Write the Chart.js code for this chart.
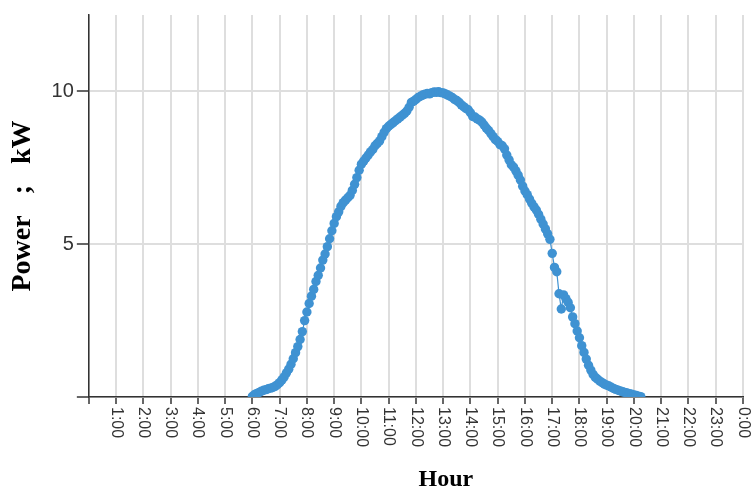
<!DOCTYPE html>
<html>
<head>
<meta charset="utf-8">
<script src="https://cdn.jsdelivr.net/npm/chart.js@4"></script>
<style>
  html, body { margin: 0; padding: 0; background: #fff; }
  #wrap { width: 752px; height: 489px; position: relative; }
</style>
</head>
<body>
<div id="wrap"><canvas id="pv"></canvas></div>
<script>
// PV output of one day, sampled every 5 minutes
const times = [
  '6:00','6:05','6:10','6:15','6:20','6:25','6:30','6:35','6:40','6:45','6:50','6:55',
  '7:00','7:05','7:10','7:15','7:20','7:25','7:30','7:35','7:40','7:45','7:50','7:55',
  '8:00','8:05','8:10','8:15','8:20','8:25','8:30','8:35','8:40','8:45','8:50','8:55',
  '9:00','9:05','9:10','9:15','9:20','9:25','9:30','9:35','9:40','9:45','9:50','9:55',
  '10:00','10:05','10:10','10:15','10:20','10:25','10:30','10:35','10:40','10:45','10:50','10:55',
  '11:00','11:05','11:10','11:15','11:20','11:25','11:30','11:35','11:40','11:45','11:50','11:55',
  '12:00','12:05','12:10','12:15','12:20','12:25','12:30','12:35','12:40','12:45','12:50','12:55',
  '13:00','13:05','13:10','13:15','13:20','13:25','13:30','13:35','13:40','13:45','13:50','13:55',
  '14:00','14:05','14:10','14:15','14:20','14:25','14:30','14:35','14:40','14:45','14:50','14:55',
  '15:00','15:05','15:10','15:15','15:20','15:25','15:30','15:35','15:40','15:45','15:50','15:55',
  '16:00','16:05','16:10','16:15','16:20','16:25','16:30','16:35','16:40','16:45','16:50','16:55',
  '17:00','17:05','17:10','17:15','17:20','17:25','17:30','17:35','17:40','17:45','17:50','17:55',
  '18:00','18:05','18:10','18:15','18:20','18:25','18:30','18:35','18:40','18:45','18:50','18:55',
  '19:00','19:05','19:10','19:15','19:20','19:25','19:30','19:35','19:40','19:45','19:50','19:55',
  '20:00','20:05','20:10','20:15'
];

const power = [
  0.02, 0.08, 0.12, 0.15, 0.19, 0.22, 0.24, 0.27, 0.29, 0.31, 0.35, 0.40,
  0.47, 0.56, 0.66, 0.79, 0.91, 1.07, 1.25, 1.45, 1.65, 1.88, 2.14, 2.50,
  2.78, 3.06, 3.30, 3.52, 3.78, 3.98, 4.22, 4.48, 4.68, 4.92, 5.18, 5.44,
  5.68, 5.90, 6.06, 6.24, 6.36, 6.44, 6.52, 6.60, 6.76, 6.96, 7.18, 7.42,
  7.62, 7.72, 7.82, 7.92, 8.02, 8.10, 8.22, 8.30, 8.38, 8.52, 8.66, 8.78,
  8.86, 8.92, 8.98, 9.04, 9.10, 9.16, 9.22, 9.28, 9.36, 9.48, 9.64, 9.68,
  9.74, 9.80, 9.84, 9.88, 9.91, 9.93, 9.92, 9.96, 9.98, 9.97, 9.99, 9.96,
  9.95, 9.92, 9.88, 9.84, 9.80, 9.74, 9.70, 9.64, 9.56, 9.50, 9.44, 9.40,
  9.30, 9.18, 9.16, 9.10, 9.06, 9.00, 8.90, 8.80, 8.72, 8.62, 8.52, 8.42,
  8.36, 8.26, 8.22, 8.12, 7.92, 7.76, 7.60, 7.52, 7.40, 7.26, 7.10, 6.90,
  6.74, 6.62, 6.48, 6.34, 6.22, 6.12, 5.98, 5.82, 5.66, 5.50, 5.34, 5.16,
  4.70, 4.24, 4.10, 3.38, 2.88, 3.34, 3.22, 3.10, 2.92, 2.62, 2.40, 2.16,
  1.94, 1.68, 1.46, 1.24, 1.04, 0.88, 0.74, 0.64, 0.58, 0.52, 0.47, 0.42,
  0.39, 0.36, 0.32, 0.28, 0.25, 0.22, 0.20, 0.17, 0.15, 0.13, 0.11, 0.09,
  0.07, 0.05, 0.03, 0.01
];

const hourTicks = [0,1,2,3,4,5,6,7,8,9,10,11,12,13,14,15,16,17,18,19,20,21,22,23,24];
const powerTicks = [0, 5, 10];

const toHours = t => {
  const [h, m] = t.split(':').map(Number);
  return h + m / 60;
};
const hourLabel = v => (v === 0 ? '' : (v % 24) + ':00');

// x labels read top-to-bottom, so they are drawn here instead of by the scale
const clockwiseLabels = {
  id: 'clockwiseLabels',
  afterDraw(chart) {
    const { ctx, scales: { x }, chartArea } = chart;
    ctx.save();
    ctx.fillStyle = '#333';
    ctx.font = '16px "Liberation Sans", Arial, sans-serif';
    ctx.textAlign = 'left';
    ctx.textBaseline = 'middle';
    hourTicks.forEach(v => {
      const label = hourLabel(v);
      if (!label) return;
      ctx.save();
      ctx.translate(x.getPixelForValue(v), chartArea.bottom + 10);
      ctx.rotate(Math.PI / 2);
      ctx.fillText(label, 0, 0);
      ctx.restore();
    });
    ctx.fillStyle = '#000';
    ctx.font = 'bold 24px "Liberation Serif", "Times New Roman", serif';
    ctx.textAlign = 'center';
    ctx.textBaseline = 'alphabetic';
    ctx.fillText('Hour', (chartArea.left + chartArea.right) / 2 + 30, 486);
    ctx.restore();
  }
};

new Chart(document.getElementById('pv'), {
  type: 'scatter',
  data: {
    datasets: [{
      label: 'Power',
      data: times.map((t, i) => ({ x: toHours(t), y: power[i] })),
      showLine: true,
      borderColor: '#3f92d2',
      borderWidth: 1.2,
      backgroundColor: '#3f92d2',
      pointBackgroundColor: '#3f92d2',
      pointBorderColor: '#3f92d2',
      pointBorderWidth: 0,
      pointRadius: 4.7
    }]
  },
  options: {
    responsive: true,
    maintainAspectRatio: false,
    animation: false,
    layout: { padding: { top: 15, right: 9, left: 6, bottom: 85 } },
    plugins: { legend: { display: false }, tooltip: { enabled: false } },
    scales: {
      x: {
        type: 'linear',
        min: 0,
        max: 24,
        afterBuildTicks: scale => { scale.ticks = hourTicks.map(v => ({ value: v })); },
        ticks: { display: false },
        grid: {
          color: '#dedede',
          lineWidth: 2,
          tickLength: 7,
          tickColor: '#333',
          tickWidth: 1.5
        },
        border: { color: '#333', width: 1.5 }
      },
      y: {
        min: 0,
        max: 12.5,
        afterBuildTicks: scale => { scale.ticks = powerTicks.map(v => ({ value: v })); },
        ticks: {
          color: '#333',
          font: { size: 20, family: '"Liberation Sans", Arial, sans-serif' },
          padding: 3,
          callback: v => (v === 0 ? '' : v)
        },
        grid: {
          color: '#dedede',
          lineWidth: 2,
          tickLength: 12,
          tickColor: '#333',
          tickWidth: 1.5
        },
        border: { color: '#333', width: 1.5 },
        title: {
          display: true,
          text: 'Power   ;   kW',
          color: '#000',
          font: { size: 28, weight: 'bold', family: '"Liberation Serif", "Times New Roman", serif' },
          padding: { top: 0, bottom: 9 }
        }
      }
    }
  },
  plugins: [clockwiseLabels]
});
</script>
</body>
</html>
